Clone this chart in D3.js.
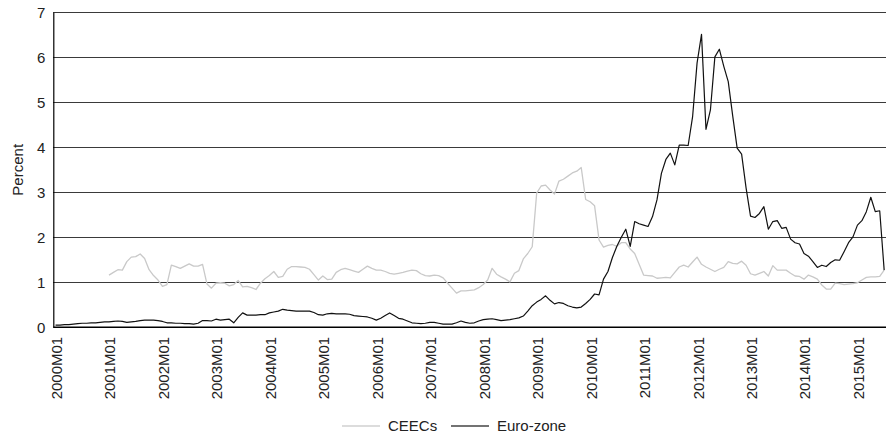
<!DOCTYPE html>
<html>
<head>
<meta charset="utf-8">
<script src="https://cdn.jsdelivr.net/npm/d3@7"></script>
<style>
  html, body { margin: 0; padding: 0; background: #fff; }
  svg text { font-family: "Liberation Sans", Arial, sans-serif; fill: #222; }
</style>
</head>
<body>
<svg id="chart" width="886" height="436"></svg>
<script>
// Monthly categories 2000M01 .. 2015M07
const years = d3.range(2000, 2016);
const months = ["01","02","03","04","05","06","07","08","09","10","11","12"];
const categories = [];
years.forEach(yr => months.forEach(m => categories.push(yr + "M" + m)));
categories.splice(categories.indexOf("2015M07") + 1);

// Euro-zone, percent, 2000M01 onwards
const euroZone = [
  0.05,0.05,0.06,0.06,0.07,0.08,0.09,0.09,0.10,0.10,0.11,0.12,
  0.12,0.13,0.14,0.13,0.11,0.12,0.13,0.15,0.16,0.16,0.16,0.15,
  0.13,0.10,0.10,0.09,0.09,0.08,0.08,0.07,0.09,0.15,0.15,0.14,
  0.18,0.16,0.17,0.18,0.10,0.22,0.32,0.27,0.27,0.27,0.28,0.28,
  0.32,0.34,0.36,0.40,0.38,0.37,0.36,0.36,0.36,0.36,0.33,0.28,
  0.27,0.30,0.31,0.30,0.30,0.30,0.29,0.26,0.25,0.24,0.23,0.20,
  0.16,0.20,0.26,0.32,0.26,0.20,0.18,0.14,0.10,0.09,0.08,0.09,
  0.11,0.11,0.09,0.07,0.07,0.07,0.10,0.14,0.11,0.09,0.10,0.14,
  0.17,0.18,0.19,0.17,0.15,0.16,0.17,0.19,0.21,0.25,0.36,0.48,
  0.56,0.62,0.70,0.60,0.52,0.55,0.53,0.48,0.45,0.43,0.45,0.53,
  0.62,0.74,0.72,1.07,1.24,1.55,1.80,2.00,2.18,1.80,2.35,2.30,
  2.27,2.24,2.46,2.83,3.42,3.73,3.87,3.61,4.05,4.05,4.04,4.68,
  5.87,6.51,4.40,4.83,6.01,6.18,5.80,5.46,4.70,3.98,3.85,3.10,
  2.47,2.44,2.53,2.68,2.18,2.35,2.37,2.20,2.22,1.96,1.88,1.85,
  1.64,1.58,1.46,1.33,1.38,1.35,1.44,1.50,1.49,1.68,1.88,2.01,
  2.27,2.37,2.57,2.89,2.57,2.59,1.27
];

// CEECs, percent, starting 2001M01
const ceecsStart = "2001M01";
const ceecs = [
  1.16,1.22,1.28,1.27,1.46,1.56,1.57,1.63,1.53,1.28,1.15,1.05,
  0.91,0.95,1.38,1.35,1.31,1.36,1.41,1.36,1.36,1.40,0.96,0.87,
  0.98,0.99,0.98,0.92,0.95,1.04,0.90,0.91,0.88,0.84,0.98,1.08,
  1.15,1.24,1.11,1.13,1.29,1.35,1.35,1.34,1.33,1.29,1.17,1.05,
  1.14,1.06,1.07,1.22,1.28,1.31,1.28,1.25,1.22,1.29,1.36,1.31,
  1.27,1.27,1.24,1.20,1.18,1.20,1.22,1.25,1.27,1.26,1.19,1.15,
  1.14,1.16,1.15,1.10,0.98,0.87,0.76,0.81,0.81,0.82,0.83,0.88,
  0.95,1.05,1.31,1.18,1.12,1.07,1.01,1.20,1.26,1.52,1.64,1.79,
  2.98,3.14,3.16,3.05,2.96,3.25,3.29,3.36,3.43,3.47,3.55,2.84,
  2.79,2.70,1.94,1.78,1.82,1.84,1.80,1.88,1.88,1.74,1.64,1.40,
  1.16,1.15,1.14,1.09,1.10,1.11,1.10,1.22,1.34,1.38,1.34,1.45,
  1.56,1.40,1.34,1.29,1.24,1.29,1.33,1.46,1.42,1.41,1.47,1.38,
  1.19,1.16,1.20,1.24,1.14,1.37,1.27,1.27,1.27,1.20,1.14,1.13,
  1.07,1.16,1.12,1.07,0.94,0.85,0.85,0.98,0.97,0.95,0.96,0.97,
  0.99,1.05,1.11,1.12,1.12,1.13,1.27
];

const yTicks = [0, 1, 2, 3, 4, 5, 6, 7];
const xTickLabels = categories.filter(c => c.endsWith("M01"));
const seriesNames = ["CEECs", "Euro-zone"];
const seriesColors = { "CEECs": "#c9c9c9", "Euro-zone": "#111" };

const svg = d3.select("#chart");
const plotLeft = 53.3, plotRight = 886.4, plotTop = 12.3, plotBottom = 327.3;

const x = d3.scaleBand().domain(categories).range([plotLeft, plotRight]).paddingInner(0).paddingOuter(0);
const cx = c => x(c) + x.bandwidth() / 2;
const y = d3.scaleLinear().domain([0, 7]).range([plotBottom, plotTop]);

// horizontal gridlines
svg.append("g")
  .selectAll("line")
  .data(yTicks.filter(t => t > 0))
  .join("line")
  .attr("x1", plotLeft).attr("x2", plotRight)
  .attr("y1", d => y(d)).attr("y2", d => y(d))
  .attr("stroke", "#3a3a3a").attr("stroke-width", 1)
  .attr("shape-rendering", "crispEdges");

// y axis labels
const yAxis = d3.axisLeft(y).tickValues(yTicks).tickSize(0).tickPadding(8).tickFormat(d3.format("d"));
const gy = svg.append("g").attr("transform", `translate(${plotLeft},0)`).call(yAxis);
gy.select(".domain").attr("stroke", "#000").attr("stroke-width", 1.2);
gy.selectAll("text").style("font-size", "15px").attr("fill", "#222");

svg.append("text")
  .attr("transform", `translate(23,${(plotTop + plotBottom) / 2}) rotate(-90)`)
  .attr("text-anchor", "middle")
  .style("font-size", "15px")
  .text("Percent");

// x axis
const xAxis = d3.axisBottom(x).tickValues(xTickLabels).tickSize(0).tickFormat(d => d);
const gx = svg.append("g").attr("transform", `translate(0,${plotBottom})`).call(xAxis);
gx.select(".domain").remove();
gx.selectAll("text")
  .style("font-size", "15px")
  .attr("text-anchor", "end")
  .attr("x", 0).attr("y", 0).attr("dy", null)
  .attr("transform", "translate(0,9.5) rotate(-90) translate(0,6.5)");

svg.append("line")
  .attr("x1", plotLeft).attr("x2", plotRight).attr("y1", plotBottom).attr("y2", plotBottom)
  .attr("stroke", "#000").attr("stroke-width", 1.6);

// series lines
const line = d3.line().x(d => cx(d.c)).y(d => y(d.v));
const startIdx = categories.indexOf(ceecsStart);
const ceecsData = ceecs.map((v, i) => ({ c: categories[startIdx + i], v }));
const euroData = euroZone.map((v, i) => ({ c: categories[i], v }));

svg.append("path").datum(ceecsData).attr("d", line)
  .attr("fill", "none").attr("stroke", seriesColors["CEECs"]).attr("stroke-width", 1.3)
  .attr("stroke-linejoin", "round");
svg.append("path").datum(euroData).attr("d", line)
  .attr("fill", "none").attr("stroke", seriesColors["Euro-zone"]).attr("stroke-width", 1.2)
  .attr("stroke-linejoin", "round");

// legend
const legend = svg.append("g").attr("transform", "translate(342,426)");
const legendItems = [{ name: seriesNames[0], x: 0 }, { name: seriesNames[1], x: 109 }];
legendItems.forEach(it => {
  const g = legend.append("g").attr("transform", `translate(${it.x},0)`);
  g.append("line").attr("x1", 0).attr("x2", 38).attr("y1", 0).attr("y2", 0)
    .attr("stroke", it.name === "CEECs" ? "#d0d0d0" : "#444").attr("stroke-width", 1.5);
  g.append("text").attr("x", 46).attr("dy", "0.35em").style("font-size", "15px").text(it.name);
});
</script>
</body>
</html>
